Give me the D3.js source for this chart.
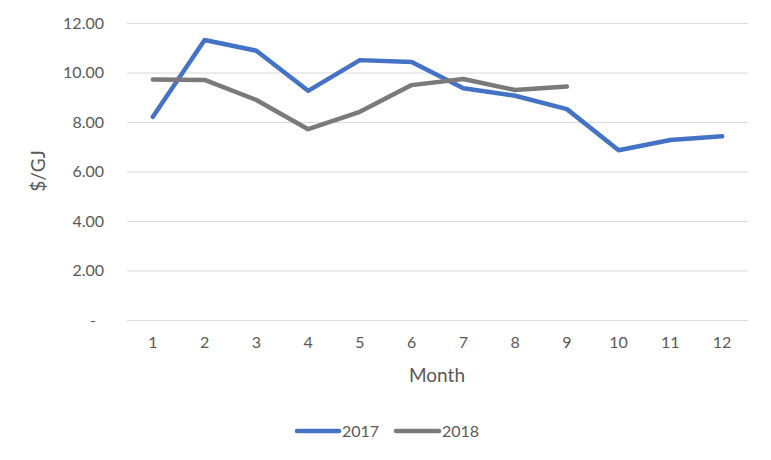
<!DOCTYPE html>
<html><head><meta charset="utf-8">
<script src="https://cdn.jsdelivr.net/npm/d3@7"></script>
<style>
body{margin:0;background:#fff;}
svg{font-family:Lato,"Open Sans",sans-serif;}
</style></head>
<body><svg id="c" width="771" height="460"></svg>
<script>
const months = [1,2,3,4,5,6,7,8,9,10,11,12];
const series2017 = [8.21,11.31,10.88,9.26,10.50,10.42,9.36,9.06,8.52,6.86,7.27,7.42];
const series2018 = [9.72,9.70,8.89,7.71,8.41,9.49,9.74,9.29,9.43];
const yTicks = [0,2,4,6,8,10,12];
const seriesNames = ["2017","2018"];
const colors = ["#4472C4","#7A7A7A"];

const svg = d3.select("#c");
const mLeft = 127, mRight = 748, mTop = 23, mBottom = 320;
const x = d3.scaleBand().domain(months).range([mLeft,mRight]);
const y = d3.scaleLinear().domain([0,12]).range([mBottom,mTop]);
const textCol = "#595959";

// gridlines
svg.append("g").selectAll("line").data(yTicks).join("line")
  .attr("x1",mLeft).attr("x2",mRight)
  .attr("y1",d=>y(d)+0.5).attr("y2",d=>y(d)+0.5)
  .attr("stroke","#d9d9d9").attr("stroke-width",1);

// y axis labels
const ya = svg.append("g").attr("transform",`translate(${mLeft},0)`)
  .call(d3.axisLeft(y).tickValues(yTicks).tickSize(0).tickPadding(23)
    .tickFormat(d=>d===0?"-":d3.format(".2f")(d)));
ya.select(".domain").remove();
ya.selectAll("text").attr("fill",textCol).attr("font-size",16)
  .attr("font-family","Lato,'Open Sans',sans-serif")
  .attr("dx",d=>d===0?-8:0);

// x axis labels
const xa = svg.append("g").attr("transform",`translate(0,${mBottom})`)
  .call(d3.axisBottom(x).tickSize(0).tickPadding(17));
xa.select(".domain").remove();
xa.selectAll("text").attr("fill",textCol).attr("font-size",16)
  .attr("font-family","Lato,'Open Sans',sans-serif");

// axis titles
svg.append("text").attr("x",437).attr("y",382).attr("text-anchor","middle")
  .attr("fill",textCol).attr("font-size",19).text("Month");
svg.append("text").attr("transform","translate(45,171) rotate(-90)")
  .attr("text-anchor","middle").attr("fill",textCol).attr("font-size",19).text("$/GJ");

// lines
const line = d3.line().x((d,i)=>x(months[i])+x.bandwidth()/2).y(d=>y(d));
[series2017,series2018].forEach((s,k)=>{
  svg.append("path").datum(s).attr("d",line).attr("fill","none")
    .attr("stroke",colors[k]).attr("stroke-width",4.5)
    .attr("stroke-linejoin","round").attr("stroke-linecap","round");
});

// legend
const leg = [{x1:297,x2:339,tx:342},{x1:396,x2:439,tx:442}];
leg.forEach((l,k)=>{
  svg.append("line").attr("x1",l.x1).attr("x2",l.x2).attr("y1",431).attr("y2",431)
    .attr("stroke",colors[k]).attr("stroke-width",4.5).attr("stroke-linecap","round");
  svg.append("text").attr("x",l.tx).attr("y",437).attr("fill",textCol)
    .attr("font-size",16).text(seriesNames[k]);
});
</script></body></html>
